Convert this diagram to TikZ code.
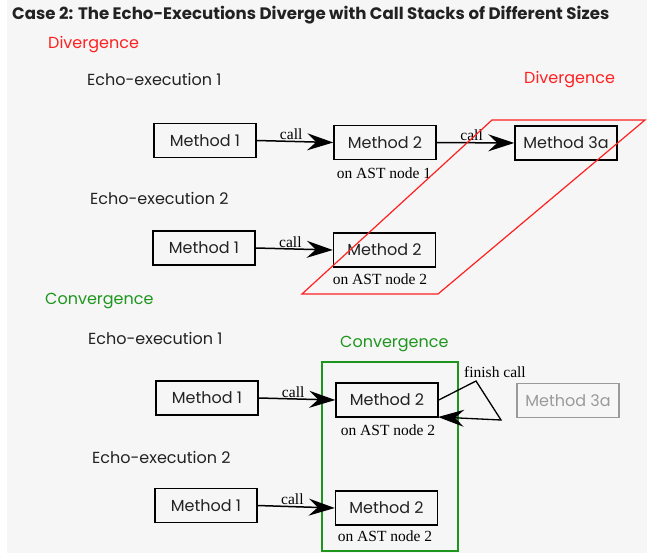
\documentclass[tikz,border=0pt]{standalone}
\usepackage{fontspec}
\setmainfont{Poppins}
\newfontfamily\serifnote{Liberation Serif}
\usetikzlibrary{arrows.meta}
\definecolor{bggray}{HTML}{F6F6F6}
\definecolor{divred}{HTML}{FF2020}
\definecolor{convgreen}{HTML}{1E961E}
\definecolor{fadegray}{HTML}{9A9A9A}
\definecolor{textdark}{HTML}{222222}
\tikzset{
  mbox/.style={draw=black, line width=1.5pt, minimum width=102pt, minimum height=34pt, inner sep=0pt, text=textdark, font=\fontsize{16}{19}\selectfont},
  fadebox/.style={mbox, draw=fadegray, text=fadegray},
  callarrow/.style={line width=1.5pt, -{Stealth[length=26pt,width=17pt,inset=9pt]}},
  calllabel/.style={font=\serifnote\fontsize{15.5}{18}\selectfont, inner sep=1pt},
  astlabel/.style={font=\serifnote\fontsize{15.5}{18}\selectfont, inner sep=0pt},
  heading/.style={font=\fontsize{16}{19}\selectfont, anchor=west, inner sep=0pt, text=textdark},
  divlabel/.style={heading, text=divred},
  convlabel/.style={heading, text=convgreen},
}
\begin{document}
\begin{tikzpicture}[x=1pt,y=-1pt]
\useasboundingbox (0,0) rectangle (650,554);
\fill[bggray] (7,0) rectangle (647,553);

\node[anchor=west, inner sep=0pt, text=textdark, font=\bfseries\fontsize{16.6}{19}\selectfont] (title) at (12,15) {Case 2: The Echo-Executions Diverge with Call Stacks of Different Sizes};

% Divergence part
\node[divlabel] (div1) at (48,45) {Divergence};
\node[heading] (e1a) at (87,79) {Echo-execution 1};
\node[divlabel] (div2) at (524,80) {Divergence};

\node[mbox] (a1) at (205,140.5) {Method 1};
\node[mbox] (a2) at (385,142.5) {Method 2};
\node[mbox] (a3) at (566,143) {Method 3a};
\node[astlabel] (ast1) at (384,173) {on AST node 1};
\draw[callarrow] (a1.east) -- node[calllabel, above, pos=0.45] {call} (a2.west);
\draw[callarrow] (a2.east) -- node[calllabel, above, pos=0.45] {call} (a3.west);

\node[heading] (e2a) at (90,198) {Echo-execution 2};
\node[mbox] (b1) at (204,248) {Method 1};
\node[mbox] (b2) at (384.5,250) {Method 2};
\node[astlabel] (ast2) at (380,279) {on AST node 2};
\draw[callarrow] (b1.east) -- node[calllabel, above, pos=0.45] {call} (b2.west);

\draw[divred, line width=1.2pt] (492,120) -- (645,120) -- (438,294) -- (302,294) -- cycle;

% Convergence part
\node[convlabel] (conv1) at (45,301) {Convergence};
\node[heading] (e1b) at (88,338) {Echo-execution 1};
\node[convlabel] (conv2) at (340,344) {Convergence};
\draw[convgreen, line width=1.2pt] (322,362) rectangle (458,551);

\node[mbox] (c1) at (207,398) {Method 1};
\node[mbox] (c2) at (387,400) {Method 2};
\node[fadebox] (c3) at (568,400.5) {Method 3a};
\node[astlabel] (ast3) at (388,430) {on AST node 2};
\draw[callarrow] (c1.east) -- node[calllabel, above, pos=0.45] {call} (c2.west);

\coordinate (fk1) at (476,381);
\coordinate (fk2) at (501,420);
\coordinate (fend) at (438,417);
\draw[callarrow, line width=1.3pt] (c2.east) -- (fk1) -- (fk2) -- (fend);
\node[calllabel, anchor=west] (finish) at (463,372) {finish call};

\node[heading] (e2b) at (92,457) {Echo-execution 2};
\node[mbox] (d1) at (206,505.5) {Method 1};
\node[mbox] (d2) at (386.5,508) {Method 2};
\node[astlabel] (ast4) at (385,536) {on AST node 2};
\draw[callarrow] (d1.east) -- node[calllabel, above, pos=0.45] {call} (d2.west);
\end{tikzpicture}
\end{document}
